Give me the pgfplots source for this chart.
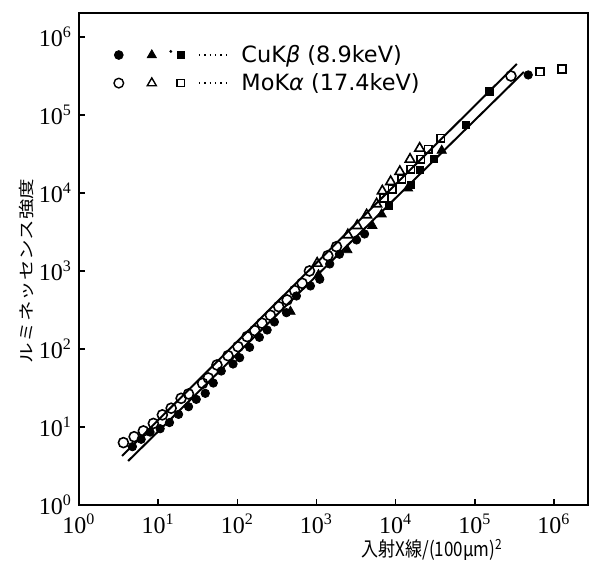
\documentclass[border=0pt]{standalone}
\usepackage{pgfplots}
\pgfplotsset{compat=1.18}
\usepackage{fontspec}
\setmainfont{Liberation Serif}
\newfontfamily\jpx[FakeStretch=0.85]{Noto Sans CJK JP}
\newfontfamily\jpy[FakeStretch=1.3]{Noto Sans CJK JP}
\newfontfamily\dvs{DejaVu Sans}
\begin{document}
\begin{tikzpicture}
\begin{loglogaxis}[
  scale only axis, width=254.5pt, height=246pt,
  xmin=1, xmax=2.69e6, ymin=1, ymax=2.03e6,
  axis line style={line width=1pt},
  tick pos=left, tick align=inside, major tick length=3pt,
  major tick style={line width=0.8pt, black},
  minor tick style={draw=none},
  xtick={1,10,100,1000,10000,100000,1000000},
  ytick={1,10,100,1000,10000,100000,1000000},
  xticklabels={10\textsuperscript{0},10\textsuperscript{1},10\textsuperscript{2},10\textsuperscript{3},10\textsuperscript{4},10\textsuperscript{5},10\textsuperscript{6}},
  yticklabels={10\textsuperscript{0},10\textsuperscript{1},10\textsuperscript{2},10\textsuperscript{3},10\textsuperscript{4},10\textsuperscript{5},10\textsuperscript{6}},
  ticklabel style={font=\fontsize{12}{14}\selectfont},
  xticklabel style={yshift=-1pt},
  clip=false,
  xlabel={\jpx\fontsize{10}{12}\selectfont 入射X線/(100μm)\textsuperscript{2}},
  ylabel={\jpy\fontsize{7.9}{10}\selectfont ルミネッセンス強度},
  every axis x label/.style={at={(rel axis cs:0.694,-0.092)}, anchor=center},
  every axis y label/.style={at={(rel axis cs:-0.104,0.476)}, rotate=90, anchor=center},
  legend style={draw=none, fill=none, at={(rel axis cs:0.068,0.944)}, anchor=north west,
    inner sep=0pt, font=\dvs\fontsize{11.2}{13}\selectfont, row sep=0pt, column sep=5pt},
  legend cell align=left,
]
\addlegendimage{legend image code/.code={
  \draw[black] plot[only marks, mark=*, mark size=2.2pt] coordinates {(0pt,0pt)};
  \draw[black] plot[only marks, mark=triangle*, mark size=2.6pt] coordinates {(16.5pt,0pt)};
  \draw[black] plot[only marks, mark=*, mark size=0.5pt] coordinates {(26pt,1.8pt)};
  \draw[black] plot[only marks, mark=square*, mark size=1.8pt] coordinates {(31pt,0pt)};
  \draw[black, dotted, line width=0.7pt] (40pt,0pt) -- (54pt,0pt);
}}
\addlegendentry{CuK\textit{β} (8.9keV)}
\addlegendimage{legend image code/.code={
  \draw[black, line width=0.7pt] plot[only marks, mark=o, mark size=2.4pt] coordinates {(0pt,0pt)};
  \draw[black, line width=0.7pt] plot[only marks, mark=triangle, mark size=2.6pt] coordinates {(16.5pt,0pt)};
  \draw[black, line width=0.7pt] plot[only marks, mark=square, mark size=1.8pt] coordinates {(31pt,0pt)};
  \draw[black, dotted, line width=0.7pt] (40pt,0pt) -- (54pt,0pt);
}}
\addlegendentry{MoK\textit{α} (17.4keV)}

% fitted lines
\addplot[black, line width=1pt, forget plot] coordinates {(3.50,4.25) (3.40e5,4.51e5)};
\addplot[black, line width=1pt, forget plot] coordinates {(4.17,3.66) (4.17e5,3.56e5)};

% MoK alpha open circles
\addplot[only marks, mark=o, mark size=2.5pt, line width=0.8pt, black, forget plot] coordinates {
(3.64,6.3) (4.97,7.5) (6.5,8.9) (8.7,11.1) (11.3,14.3) (14.6,17.4) (19.5,23.3) (24.2,26.5)
(36.4,36.3) (43,42.5) (55.3,62.4) (76.3,82) (102,107) (133,144) (166,172) (205,214)
(262,270) (333,349) (426,425) (530,560) (659,695) (815,1000) (1390,1570) (1790,2050)
(2.86e5,3.16e5)};
% CuK beta filled circles
\addplot[only marks, mark=*, mark size=2.1pt, black, forget plot] coordinates {
(4.73,5.59) (6.1,6.95) (7.9,8.6) (10.6,9.5) (13.9,11.4) (18.1,14.5) (24.2,18.2) (30.3,22.6)
(39.4,27.0) (49.7,36.6) (62.7,52.2) (88.3,64.2) (107,77.3) (143,105) (190,141) (238,175)
(294,222) (417,292) (558,478) (839,643) (1100,783) (1470,1230) (1950,1640) (3210,2500)
(4050,2980) (4.73e5,3.26e5)};
% MoK alpha open triangles
\addplot[only marks, mark=triangle, mark size=2.8pt, line width=0.8pt, black, forget plot] coordinates {
(1020,1255) (2490,2900) (3270,3810) (4300,5220) (5750,7230) (6790,10600) (8650,13960)
(11300,18800) (15200,27000) (20100,37400)};
% CuK beta filled triangles
\addplot[only marks, mark=triangle*, mark size=2.7pt, black, forget plot] coordinates {
(469,301) (1060,889) (2450,1860) (5070,3810) (6650,5330) (14300,11500) (38200,34900)};
% MoK alpha open squares
\addplot[only marks, mark=square, mark size=1.9pt, line width=0.8pt, black, forget plot] coordinates {
(7110,8550) (9080,11150) (11900,15000) (15500,20100) (20700,27000) (25900,36300) (37100,50200)
(6.65e5,3.59e5) (1.26e6,3.89e5)};
% CuK beta filled squares
\addplot[only marks, mark=square*, mark size=1.9pt, black, forget plot] coordinates {
(8230,6880) (15500,12700) (20300,19700) (30500,27300) (76900,74400) (1.52e5,1.99e5)};

\path (rel axis cs:-0.1552,-0.122) rectangle (rel axis cs:1.0079,1.0264);
\end{loglogaxis}
\end{tikzpicture}
\end{document}
